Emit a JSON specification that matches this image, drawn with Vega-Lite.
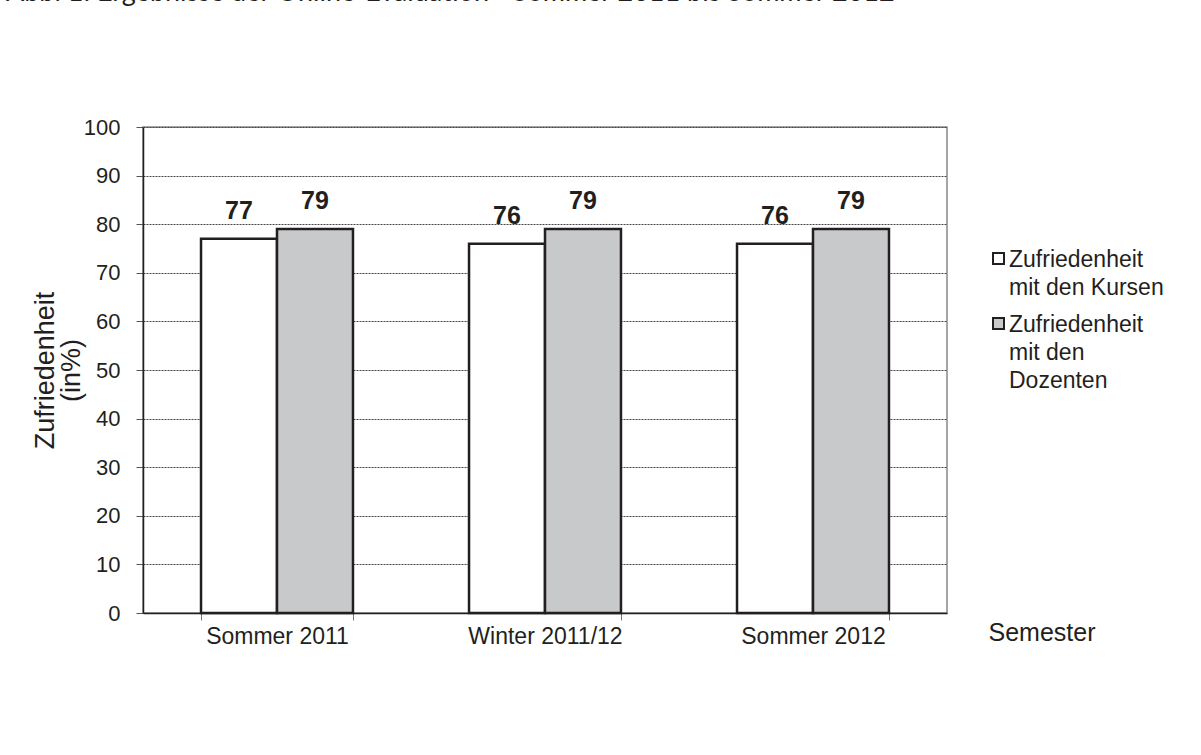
{
  "$schema": "https://vega.github.io/schema/vega-lite/v6.json",
  "width": 804,
  "height": 486,
  "autosize": {"type": "none"},
  "padding": {"left": 143, "top": 127, "right": 254, "bottom": 142},
  "background": "white",
  "title": {
    "text": "Abb. 1: Ergebnisse der Online-Evaluation - Sommer 2011 bis Sommer 2012",
    "anchor": "start",
    "frame": "group",
    "dx": -137,
    "baseline": "alphabetic",
    "offset": 0,
    "dy": -88,
    "font": "Lato",
    "fontSize": 27,
    "fontWeight": "normal",
    "color": "#231f20"
  },
  "data": {
    "values": [
      {"semester": "Sommer 2011", "serie": "Zufriedenheit|mit den Kursen", "wert": 77},
      {"semester": "Sommer 2011", "serie": "Zufriedenheit|mit den|Dozenten", "wert": 79},
      {"semester": "Winter 2011/12", "serie": "Zufriedenheit|mit den Kursen", "wert": 76},
      {"semester": "Winter 2011/12", "serie": "Zufriedenheit|mit den|Dozenten", "wert": 79},
      {"semester": "Sommer 2012", "serie": "Zufriedenheit|mit den Kursen", "wert": 76},
      {"semester": "Sommer 2012", "serie": "Zufriedenheit|mit den|Dozenten", "wert": 79}
    ]
  },
  "encoding": {
    "x": {
      "field": "semester",
      "type": "nominal",
      "sort": ["Sommer 2011", "Winter 2011/12", "Sommer 2012"],
      "scale": {"paddingInner": 0.433, "paddingOuter": 0.2165},
      "axis": {
        "title": "Semester",
        "titleFont": "Liberation Sans",
        "titleFontSize": 25,
        "titleFontWeight": "normal",
        "titleColor": "#231f20",
        "titleAnchor": "start",
        "titleAlign": "left",
        "titleBaseline": "middle",
        "titleX": 845,
        "titleY": 19,
        "labelAngle": 0,
        "labelFont": "Liberation Sans",
        "labelFontSize": 23,
        "labelColor": "#231f20",
        "labelPadding": -3,
        "tickBand": "extent",
        "tickColor": "#777777",
        "tickSize": 7,
        "domainColor": "#231f20",
        "domainWidth": 1.5,
        "grid": false
      }
    },
    "xOffset": {
      "field": "serie",
      "type": "nominal",
      "sort": ["Zufriedenheit|mit den Kursen", "Zufriedenheit|mit den|Dozenten"]
    },
    "y": {
      "field": "wert",
      "type": "quantitative",
      "scale": {"domain": [0, 100], "nice": false},
      "axis": {
        "title": ["Zufriedenheit", "(in%)"],
        "titleFont": "Liberation Sans",
        "titleFontSize": 27,
        "titleFontWeight": "normal",
        "titleColor": "#231f20",
        "titlePadding": -2,
        "titleLineHeight": 26,
        "values": [0, 10, 20, 30, 40, 50, 60, 70, 80, 90, 100],
        "labelFont": "Liberation Sans",
        "labelFontSize": 22,
        "labelColor": "#231f20",
        "labelPadding": 16,
        "labelOffset": -8,
        "tickColor": "#555555",
        "tickSize": 7,
        "domainColor": "#231f20",
        "domainWidth": 1.5,
        "grid": true,
        "gridColor": "#444444",
        "gridDash": [2, 1],
        "gridWidth": 1
      }
    }
  },
  "layer": [
    {
      "mark": {"type": "bar", "stroke": "#231f20", "strokeWidth": 2.5},
      "encoding": {
        "fill": {
          "field": "serie",
          "type": "nominal",
          "sort": ["Zufriedenheit|mit den Kursen", "Zufriedenheit|mit den|Dozenten"],
          "scale": {"range": ["#ffffff", "#c8c9ca"]},
          "legend": {
            "title": null,
            "orient": "none",
            "legendX": 844,
            "legendY": 120,
            "symbolType": "square",
            "symbolSize": 121,
            "symbolStrokeColor": "#231f20",
            "symbolStrokeWidth": 2,
            "symbolOpacity": 1,
            "labelFont": "Liberation Sans",
            "labelFontSize": 23,
            "labelColor": "#231f20",
            "labelLimit": 300,
            "labelOffset": -1,
            "labelBaseline": "alphabetic",
            "labelExpr": "split(datum.label, '|')",
            "rowPadding": 12
          }
        }
      }
    },
    {
      "mark": {"type": "text", "baseline": "bottom", "dy": -15, "font": "Liberation Sans", "fontSize": 25, "fontWeight": "bold", "color": "#231f20"},
      "encoding": {
        "text": {"field": "wert", "type": "quantitative"}
      }
    }
  ],
  "config": {
    "view": {"stroke": "#888888", "strokeWidth": 1.5},
    "style": {"guide-label": {"lineHeight": 28, "dy": 8}}
  }
}
